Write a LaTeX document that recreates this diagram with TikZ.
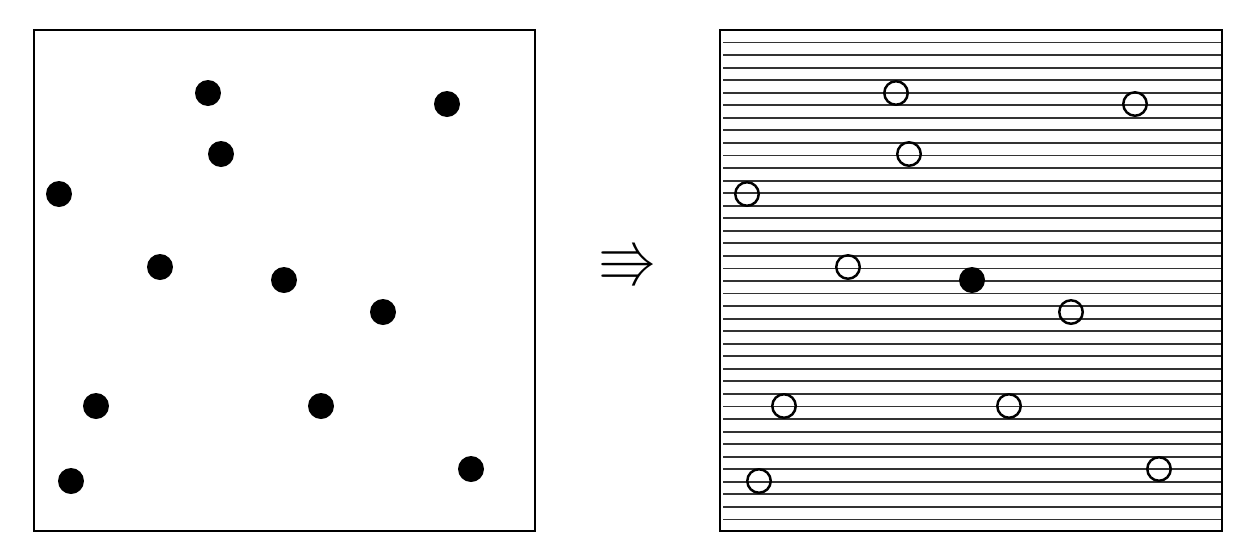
\documentclass[tikz,border=0pt]{standalone}
\usepackage{amssymb}
\begin{document}
\begin{tikzpicture}[x=0.02cm, y=-0.02cm,
    frame/.style={draw=black, line width=1.1pt},
    hatch/.style={black!80, line width=1.05pt},
    dot/.style={circle, fill=black, inner sep=0pt, minimum size=0.52cm},
    ring/.style={circle, draw=black, line width=1.4pt, inner sep=0pt, minimum size=0.47cm},
    every node/.style={font=\fontsize{34}{34}\selectfont}]
  \useasboundingbox (0,0) rectangle (1238,552);
  % Cuadro izquierdo
  \draw[frame] (34,30) rectangle (535,531);
  % Cuadro derecho, rayado
  \foreach \k in {1,...,39} {
    \draw[hatch] (723,30+\k*12.55) -- (1222,30+\k*12.55);
  }
  \draw[frame] (720,30) rectangle (1222,531);
  % Puntos (x, y) en el cuadro izquierdo; el derecho va desplazado 688
  \foreach \i/\px/\py in {1/208/93, 2/447/104, 3/221/154, 4/59/194, 5/160/267,
      7/383/312, 8/96/406, 9/321/406, 10/71/481, 11/471/469} {
    \node[dot]  (l\i) at (\px,\py) {};
    \node[ring] (r\i) at (\px+688,\py) {};
  }
  \node[dot] (l6) at (284,280) {};
  \node[dot] (r6) at (972,280) {};
  % Flecha entre ambos
  \node (arrow) at (628,265) {$\Rrightarrow$};
\end{tikzpicture}
\end{document}
